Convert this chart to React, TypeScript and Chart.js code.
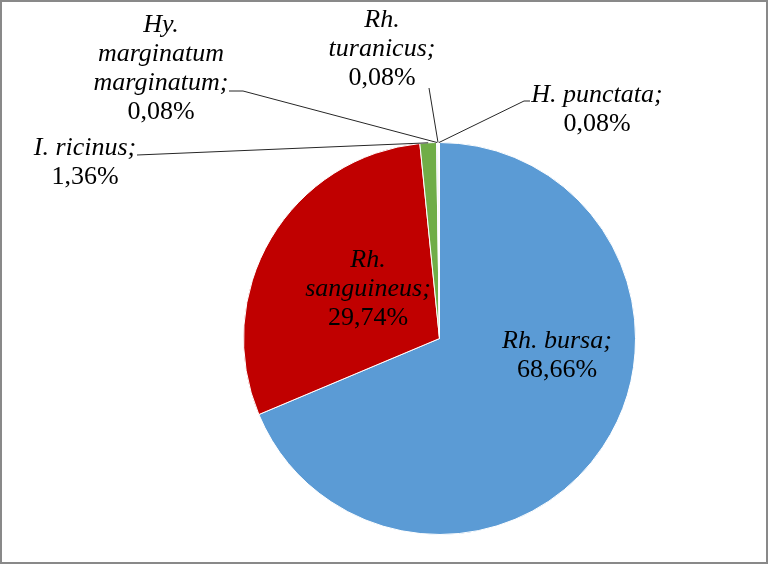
import React, { useEffect, useRef } from "react";
import { Chart, registerables } from "chart.js";

Chart.register(...registerables);

const species = [
  "Rh. bursa",
  "Rh. sanguineus",
  "I. ricinus",
  "Hy. marginatum marginatum",
  "Rh. turanicus",
  "H. punctata",
];
const shares = [68.66, 29.74, 1.36, 0.08, 0.08, 0.08];
const sliceColors = ["#5B9BD5", "#C00000", "#70AD47", "#7030A0", "#4BACC6", "#F79646"];

// label layout: words per line, center x, first baseline, leader start points
const labelLayout = [
  { wrap: [2], x: 557, y: 348, leader: null },
  { wrap: [1, 1], x: 368, y: 267, leader: null },
  { wrap: [2], x: 85, y: 155, leader: [[137, 155]] },
  { wrap: [1, 1, 1], x: 161, y: 32, leader: [[229, 91], [243, 91]] },
  { wrap: [1, 1], x: 382, y: 27, leader: [[429, 88]] },
  { wrap: [2], x: 597, y: 102, leader: [[530, 101], [524, 101]] },
];

const FONT = '"Liberation Serif", "Times New Roman", serif';
const FONT_SIZE = 26;
const LINE_H = 29;

const fmt = (v: number) => v.toFixed(2).replace(".", ",") + "%";

const labelPlugin = {
  id: "pieLabels",
  afterDatasetsDraw(chart: any) {
    const ctx = chart.ctx;
    const meta = chart.getDatasetMeta(0);
    const data = chart.data.datasets[0].data as number[];
    ctx.save();
    meta.data.forEach((arc: any, i: number) => {
      const lay = labelLayout[i];
      if (!lay) return;
      const { x, y, startAngle, endAngle, outerRadius } = arc.getProps(
        ["x", "y", "startAngle", "endAngle", "outerRadius"],
        true
      );
      if (lay.leader) {
        const mid = (startAngle + endAngle) / 2;
        const px = x + Math.cos(mid) * outerRadius;
        const py = y + Math.sin(mid) * outerRadius;
        ctx.beginPath();
        ctx.strokeStyle = "#262626";
        ctx.lineWidth = 1;
        lay.leader.forEach((p: number[], k: number) => {
          if (k === 0) ctx.moveTo(p[0], p[1]);
          else ctx.lineTo(p[0], p[1]);
        });
        ctx.lineTo(px, py);
        ctx.stroke();
      }
      const words = (chart.data.labels[i] as string).split(" ");
      const lines: string[] = [];
      let w = 0;
      lay.wrap.forEach((n: number) => {
        lines.push(words.slice(w, w + n).join(" "));
        w += n;
      });
      lines[lines.length - 1] += ";";
      ctx.fillStyle = "#000";
      ctx.textAlign = "center";
      ctx.textBaseline = "alphabetic";
      lines.forEach((ln, k) => {
        ctx.font = `italic ${FONT_SIZE}px ${FONT}`;
        ctx.fillText(ln, lay.x, lay.y + k * LINE_H);
      });
      ctx.font = `${FONT_SIZE}px ${FONT}`;
      ctx.fillText(fmt(data[i]), lay.x, lay.y + lines.length * LINE_H);
    });
    ctx.restore();
  },
  afterDraw(chart: any) {
    const ctx = chart.ctx;
    ctx.save();
    ctx.strokeStyle = "#898989";
    ctx.lineWidth = 2;
    ctx.strokeRect(1, 1, chart.width - 2, chart.height - 2);
    ctx.restore();
  },
};

export default function App() {
  const ref = useRef<HTMLCanvasElement | null>(null);
  useEffect(() => {
    document.body.style.margin = "0";
    if (!ref.current) return;
    const chart = new Chart(ref.current, {
      type: "pie",
      data: {
        labels: species,
        datasets: [
          {
            data: shares,
            backgroundColor: sliceColors,
            borderColor: "#ffffff",
            borderWidth: 1,
          },
        ],
      },
      options: {
        responsive: false,
        maintainAspectRatio: false,
        animation: false,
        layout: { padding: { left: 243, right: 132, top: 142, bottom: 29 } },
        plugins: {
          legend: { display: false },
          tooltip: { enabled: false },
        },
      },
      plugins: [labelPlugin],
    });
    return () => chart.destroy();
  }, []);
  return (
    <div style={{ width: 768, height: 564, background: "#fff" }}>
      <canvas ref={ref} width={768} height={564} style={{ display: "block" }} />
    </div>
  );
}
